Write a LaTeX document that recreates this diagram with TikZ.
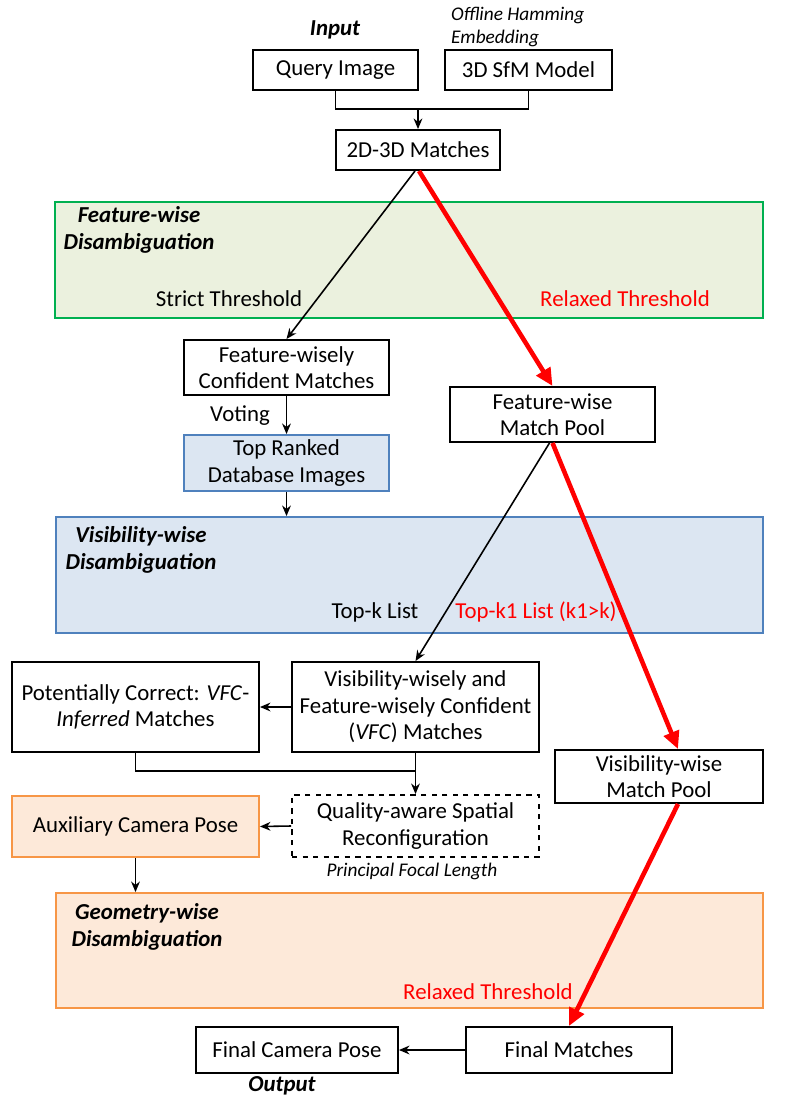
\documentclass[tikz,border=0pt]{standalone}
\usepackage{fontspec}
\setmainfont{Carlito}
\usetikzlibrary{calc,arrows.meta}
\definecolor{fwfill}{RGB}{235,241,222}
\definecolor{fwline}{RGB}{0,176,80}
\definecolor{vwfill}{RGB}{220,230,242}
\definecolor{vwline}{RGB}{79,129,189}
\definecolor{gwfill}{RGB}{253,233,217}
\definecolor{gwline}{RGB}{247,150,70}

\begin{document}
\begin{tikzpicture}[x=0.02cm, y=-0.02cm,
	every node/.style={font=\fontsize{13pt}{15pt}\selectfont},
	box/.style={draw, line width=1.1pt, inner sep=0pt, align=center},
	stagetitle/.style={font=\fontsize{13pt}{15pt}\selectfont\bfseries\itshape, align=center},
	smallnote/.style={font=\fontsize{11pt}{13pt}\selectfont\itshape, align=left},
	blackarrow/.style={line width=0.9pt, -{Stealth[length=6pt,width=5pt]}},
	redarrow/.style={line width=2.6pt, color=red, -{Triangle[length=10pt,width=9pt]}}]
			%%%%% START %%%%%
			\useasboundingbox (0,0) rectangle (795,1098);
			
			% the three stages
			\node[box, fill=fwfill, draw=fwline, minimum width=14.16cm, minimum height=2.32cm] (fwregion) at (409, 260) {};
			\node[box, fill=vwfill, draw=vwline, minimum width=14.14cm, minimum height=2.32cm] (vwregion) at (409.5, 575) {};
			\node[box, fill=gwfill, draw=gwline, minimum width=14.14cm, minimum height=2.30cm] (gwregion) at (409.5, 950.5) {};
			
			\node[stagetitle] (fwtitle) at (139, 230) {Feature-wise\\Disambiguation};
			\node[stagetitle] (vwtitle) at (141, 550) {Visibility-wise\\Disambiguation};
			\node[stagetitle] (gwtitle) at (147, 927) {Geometry-wise\\Disambiguation};
			
			\node (strict) at (229, 299) {Strict Threshold};
			\node[color=red] (relaxedfw) at (625, 299) {Relaxed Threshold};
			\node (topk) at (375, 612) {Top-k List};
			\node[color=red] (topkone) at (536, 612) {Top-k1 List (k1>k)};
			\node[color=red] (relaxedgw) at (488, 992) {Relaxed Threshold};
			
			% input
			\node[stagetitle] (input) at (335, 30) {Input};
			\node[smallnote, anchor=west] (offline) at (445, 27) {Offline Hamming\\Embedding};
			\node[box, minimum width=3.3cm, minimum height=0.8cm] (query) at (335.5, 70) {Query Image};
			\node[box, minimum width=3.34cm, minimum height=0.8cm] (sfm) at (528.5, 70) {3D SfM Model};
			\node[box, minimum width=3.28cm, minimum height=0.8cm] (matches) at (418, 150) {2D-3D Matches};
			\coordinate (join) at (418, 109);
			
			% feature-wise
			\node[box, minimum width=4.1cm, minimum height=1.1cm] (fwconf) at (286.5, 367.5) {Feature-wisely\\Confident Matches};
			\node (voting) at (240, 416) {Voting};
			\node[box, fill=vwfill, draw=vwline, minimum width=4.1cm, minimum height=1.12cm] (topdb) at (286.5, 463) {Top Ranked\\Database Images};
			\node[box, minimum width=4.1cm, minimum height=1.1cm] (fwpool) at (552.5, 414.5) {Feature-wise\\Match Pool};
			
			% visibility-wise
			\node[box, minimum width=4.94cm, minimum height=1.8cm] (potcorr) at (135.5, 707) {Potentially Correct: \textit{VFC}-\\\textit{Inferred} Matches};
			\node[box, minimum width=4.94cm, minimum height=1.8cm] (vfc) at (415.5, 707) {Visibility-wisely and\\Feature-wisely Confident\\(\textit{VFC}) Matches};
			\node[box, minimum width=4.16cm, minimum height=1.06cm] (vwpool) at (659, 776.5) {Visibility-wise\\Match Pool};
			\coordinate (merge) at (415.5, 771);
			
			% geometry-wise
			\node[box, dashed, minimum width=4.94cm, minimum height=1.24cm] (quality) at (415.5, 826) {Quality-aware Spatial\\Reconfiguration};
			\node[smallnote] (focal) at (412, 871) {Principal Focal Length};
			\node[box, fill=gwfill, draw=gwline, minimum width=4.94cm, minimum height=1.22cm] (aux) at (135.5, 826.5) {Auxiliary Camera Pose};
			
			% output
			\node[box, minimum width=4.12cm, minimum height=0.92cm] (finalm) at (569, 1050) {Final Matches};
			\node[box, minimum width=4.04cm, minimum height=0.92cm] (finalp) at (297, 1050) {Final Camera Pose};
			\node[stagetitle] (output) at (282, 1086) {Output};
			
			% connectors
			\draw[line width=0.9pt] (query.south) |- (join) -| (sfm.south);
			\draw[blackarrow] (join) -- (matches.north);
			\draw[blackarrow] ($(matches.south)+(-3,0)$) -- (fwconf.north);
			\draw[redarrow] ($(matches.south)+(1,0)$) -- (fwpool.north);
			\draw[blackarrow] (fwconf.south) -- (topdb.north);
			\draw[blackarrow] (topdb.south) -- (topdb.south |- vwregion.north);
			\draw[blackarrow] ($(fwpool.south)+(-3,0)$) -- (vfc.north);
			\draw[redarrow] (fwpool.south) -- ($(vwpool.north)+(19,0)$);
			\draw[blackarrow] (vfc.west) -- (potcorr.east);
			\draw[line width=0.9pt] (potcorr.south) |- (merge);
			\draw[blackarrow] (vfc.south) -- (quality.north);
			\draw[blackarrow] (quality.west) -- (aux.east);
			\draw[blackarrow] (aux.south) -- (aux.south |- gwregion.north);
			\draw[redarrow] ($(vwpool.south)+(19,0)$) -- (finalm.north);
			\draw[blackarrow] (finalm.west) -- (finalp.east);
			
			%%%%% END %%%%%
\end{tikzpicture}
\end{document}
